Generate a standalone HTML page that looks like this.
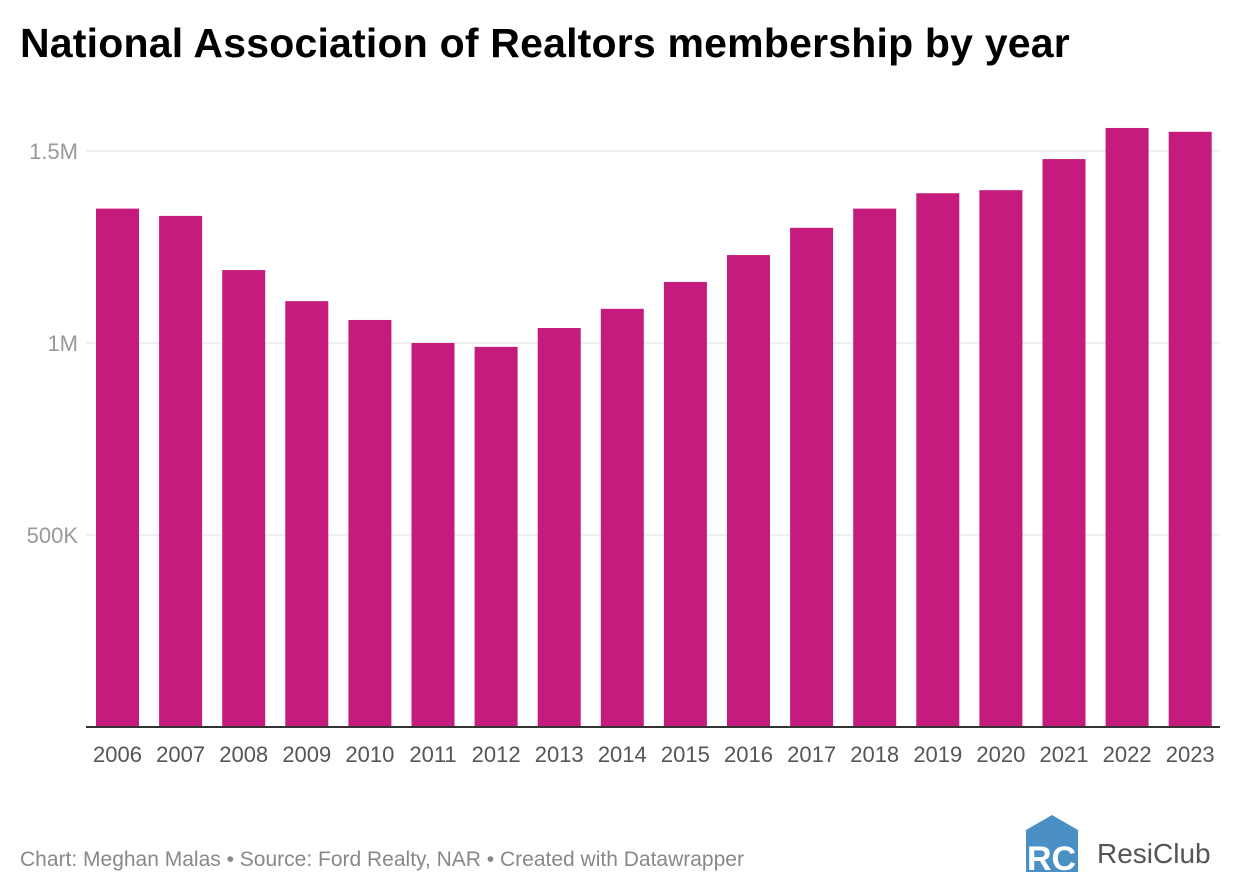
<!DOCTYPE html>
<html><head><meta charset="utf-8"><style>
body{margin:0;background:#fff;font-family:"Liberation Sans",sans-serif;}
#wrap{position:relative;width:1240px;height:894px;overflow:hidden;}
h1{position:absolute;left:20px;top:20px;margin:0;font-size:41px;font-weight:bold;color:#000;letter-spacing:0.2px;}
.foot{position:absolute;left:20px;top:848px;font-size:21px;color:#888;}
</style></head><body>
<div id="wrap">
<h1>National Association of Realtors membership by year</h1>
<svg id="chart" width="1240" height="894" style="position:absolute;left:0;top:0"></svg>
<div class="foot">Chart: Meghan Malas • Source: Ford Realty, NAR • Created with Datawrapper</div>
<svg style="position:absolute;left:1022px;top:812px" width="210" height="64">
<polygon points="4,18 30,3 56,18 56,60 4,60" fill="#4a90c4"/>
<text x="5" y="58" font-size="34" font-weight="bold" fill="#fff" font-family="Liberation Sans,sans-serif">RC</text>
<text x="75" y="51" font-size="28" fill="#555" font-family="Liberation Sans,sans-serif">ResiClub</text>
</svg>
</div>
<script>
const categories=["2006","2007","2008","2009","2010","2011","2012","2013","2014","2015","2016","2017","2018","2019","2020","2021","2022","2023"];
const values=[1350000,1331000,1190000,1109000,1060000,1000000,990000,1039000,1089000,1159000,1229000,1300000,1350000,1390000,1398000,1479000,1560000,1550000];
const tickValues=[500000,1000000,1500000];
const tickLabels=["500K","1M","1.5M"];
const svg=document.getElementById('chart');
const NS='http://www.w3.org/2000/svg';
const y0=727,pxPer=384/1000000;
const yScale=v=>y0-v*pxPer;
const xStart=96,step=63.1,bw=43;
const xScale=i=>xStart+i*step;
function mk(t,a){const e=document.createElementNS(NS,t);for(const k in a)e.setAttribute(k,a[k]);svg.appendChild(e);return e;}
tickValues.forEach((v,i)=>{
 const l=mk('line',{x1:86,x2:1220,y1:yScale(v),y2:yScale(v),stroke:'#e2e2e2','stroke-width':1});
 
 
 const t=mk('text',{x:78,y:yScale(v)+8,'text-anchor':'end','font-size':22,fill:'#999'});
 t.textContent=tickLabels[i];
 
 
});
categories.forEach((c,i)=>{
 const r=mk('rect',{x:xScale(i),y:yScale(values[i]),width:bw,height:y0-yScale(values[i]),fill:'#c41b7c'});
 
 
 const t=mk('text',{x:xScale(i)+bw/2,y:762,'text-anchor':'middle','font-size':22,fill:'#555'});
 t.textContent=c;
 
 
});
const ax=mk('line',{x1:86,x2:1220,y1:y0,y2:y0,stroke:'#333','stroke-width':2});


</script>
</body></html>
